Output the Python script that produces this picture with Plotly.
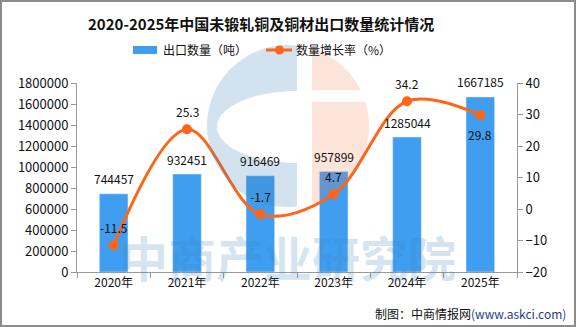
import math
import plotly.graph_objects as go

years = ["2020年", "2021年", "2022年", "2023年", "2024年", "2025年"]
export_qty = [744457, 932451, 916469, 957899, 1285044, 1667185]
growth = [-11.5, 25.3, -1.7, 4.7, 34.2, 29.8]
growth_label_pos = ["above", "above", "above", "above", "above", "below"]

title_text = "2020-2025年中国未锻轧铜及铜材出口数量统计情况"
bar_name = "出口数量（吨）"
line_name = "数量增长率（%）"
source_text = "制图：中商情报网<span style='color:#1f3c8c'>(www.askci.com)</span>"
watermark = "中商产业研究院"

BAR_COLOR = "#409EF0"
LINE_COLOR = "#FF6418"
AXIS_COLOR = "#999999"
FONT = "Noto Sans CJK SC, DejaVu Sans, sans-serif"

W, H = 576, 327
ML, MR, MT, MB = 77, 59, 83, 55
PW, PH = W - ML - MR, H - MT - MB


def px(x):
    return (x - ML) / PW


def py(y):
    return (H - MB - y) / PH


fig = go.Figure()
fig.add_trace(go.Bar(
    x=years, y=export_qty, name=bar_name, marker_color=BAR_COLOR,
    width=0.39, yaxis="y", showlegend=False, hoverinfo="x+y",
))
fig.add_trace(go.Scatter(
    x=years, y=growth, name=line_name, yaxis="y2", mode="lines+markers",
    line=dict(color=LINE_COLOR, width=3, shape="spline", smoothing=1.0),
    marker=dict(color=LINE_COLOR, size=10), showlegend=False,
))

annotations = []
for yr, v in zip(years, export_qty):
    annotations.append(dict(
        x=yr, y=v, xref="x", yref="y", text=str(v), showarrow=False,
        yanchor="middle", yshift=15, font=dict(size=12, color="#111111", family=FONT),
    ))
for yr, g, pos in zip(years, growth, growth_label_pos):
    annotations.append(dict(
        x=yr, y=g, xref="x", yref="y2", text=f"{g}", showarrow=False,
        yanchor="middle", yshift=18 if pos == "above" else -19,
        font=dict(size=12, color="#111111", family=FONT),
    ))

# title
annotations.append(dict(
    x=px(261), y=py(23), xref="paper", yref="paper", text=f"<b>{title_text}</b>",
    showarrow=False, xanchor="center", yanchor="middle",
    font=dict(size=15, color="#111111", family=FONT),
))
# custom legend
annotations.append(dict(
    x=px(161), y=py(50), xref="paper", yref="paper", text=bar_name,
    showarrow=False, xanchor="left", yanchor="middle",
    font=dict(size=12, color="#111111", family=FONT),
))
annotations.append(dict(
    x=px(294), y=py(50), xref="paper", yref="paper", text=line_name,
    showarrow=False, xanchor="left", yanchor="middle",
    font=dict(size=12, color="#111111", family=FONT),
))
# source
annotations.append(dict(
    x=px(568), y=py(313), xref="paper", yref="paper", text=source_text,
    showarrow=False, xanchor="right", yanchor="middle",
    font=dict(size=12, color="#111111", family=FONT),
))
# watermark text
annotations.append(dict(
    x=px(288), y=py(256), xref="paper", yref="paper", text=f"<b>{watermark}</b>",
    showarrow=False, xanchor="center", yanchor="middle",
    font=dict(size=48, color="rgba(60,135,190,0.22)", family=FONT),
))


def path_from(points_list):
    parts = []
    for pts in points_list:
        s = "M " + " L ".join(f"{px(a):.4f},{py(b):.4f}" for a, b in pts) + " Z"
        parts.append(s)
    return " ".join(parts)


# logo (decorative watermark)
cx, cy, R = 288, 126, 81
gap_l, gap_r = 297, 312
tb = math.degrees(math.acos((gap_l - cx) / R))
outer_blue = []
n = 80
for i in range(n + 1):
    t = math.radians(tb + (360 - 2 * tb) * i / n)
    outer_blue.append((cx + R * math.cos(t), cy - R * math.sin(t)))
hole = []
hx, hy, hrx, hry = 297, 127, 80, 36
for i in range(n + 1):
    t = math.radians(90 + 180 * i / n)
    hole.append((hx + hrx * math.cos(t), hy - hry * math.sin(t)))
blue_path = path_from([outer_blue, hole])

to = math.degrees(math.acos((gap_r - cx) / R))
band_top, band_bot = 90, 102


def arc_pts(a0, a1, m=40):
    return [(cx + R * math.cos(math.radians(a0 + (a1 - a0) * i / m)),
             cy - R * math.sin(math.radians(a0 + (a1 - a0) * i / m))) for i in range(m + 1)]


a_top = math.degrees(math.asin((cy - band_top) / R))
upper = [(gap_r, band_top)] + arc_pts(a_top, to)
a_bot = math.degrees(math.asin((cy - band_bot) / R))
lower = [(gap_r, band_bot)] + arc_pts(a_bot, -to)
orange_path = path_from([upper, lower])

shapes = [
    dict(type="path", path=blue_path, xref="paper", yref="paper",
         fillcolor="rgba(60,130,180,0.23)", line=dict(width=0), layer="above"),
    dict(type="path", path=orange_path, xref="paper", yref="paper",
         fillcolor="rgba(240,120,70,0.2)", line=dict(width=0), layer="above"),
    # legend symbols
    dict(type="rect", xref="paper", yref="paper", x0=px(133), x1=px(157), y0=py(46), y1=py(54),
         fillcolor=BAR_COLOR, line=dict(width=0)),
    dict(type="line", xref="paper", yref="paper", x0=px(266), x1=px(292), y0=py(50), y1=py(50),
         line=dict(color=LINE_COLOR, width=3)),
    dict(type="circle", xref="paper", yref="paper", x0=px(275), x1=px(284), y0=py(45.5), y1=py(54.5),
         fillcolor=LINE_COLOR, line=dict(width=0)),
    # border
    dict(type="rect", xref="paper", yref="paper", x0=px(1), x1=px(575), y0=py(1), y1=py(326),
         line=dict(color="#8c8c8c", width=2), fillcolor="rgba(0,0,0,0)"),
]

fig.update_layout(
    width=W, height=H,
    margin=dict(l=ML, r=MR, t=MT, b=MB, pad=0),
    paper_bgcolor="white", plot_bgcolor="white",
    font=dict(family=FONT, size=12, color="#111111"),
    xaxis=dict(
        type="category", showline=True, linecolor=AXIS_COLOR, linewidth=1,
        ticks="outside", tickson="boundaries", ticklen=5, tickcolor=AXIS_COLOR,
        showgrid=False, tickfont=dict(size=12, color="#111111"),
    ),
    yaxis=dict(
        range=[0, 1800000], dtick=200000, tickformat="d", showgrid=False,
        showline=True, linecolor=AXIS_COLOR, ticks="outside", ticklen=5,
        tickcolor=AXIS_COLOR, zeroline=False, tickfont=dict(size=13, color="#111111"),
    ),
    yaxis2=dict(
        range=[-20, 40], dtick=10, overlaying="y", side="right", showgrid=False,
        showline=True, linecolor=AXIS_COLOR, ticks="outside", ticklen=5,
        tickcolor=AXIS_COLOR, zeroline=False, tickfont=dict(size=13, color="#111111"),
    ),
    annotations=annotations,
    shapes=shapes,
    bargap=0.6,
)

fig.write_html("out.html")
